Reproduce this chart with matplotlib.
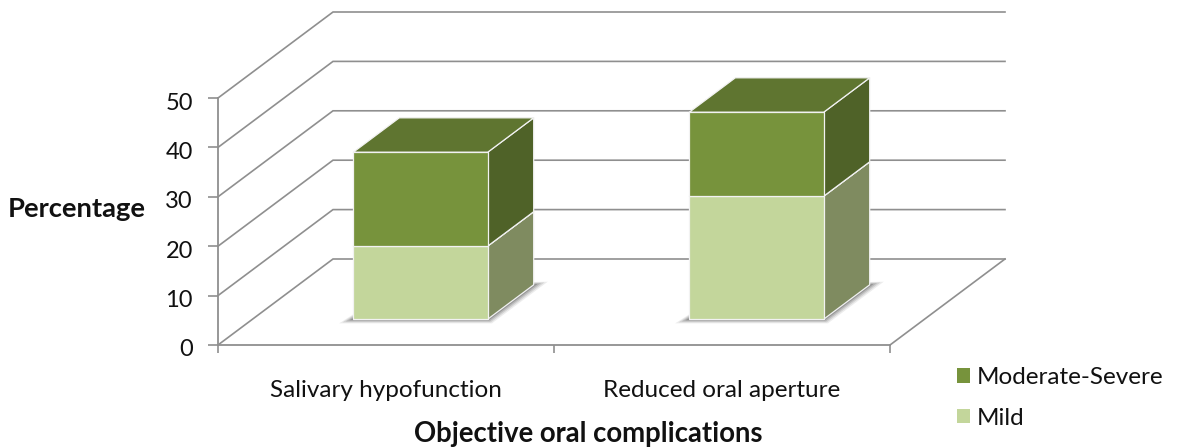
import matplotlib
matplotlib.use('Agg')
import matplotlib.pyplot as plt
from matplotlib.patches import Polygon, Patch
from matplotlib.transforms import ScaledTranslation

plt.rcParams['font.family'] = ['Lato', 'DejaVu Sans']

W, H = 1181, 447

categories = ['Salivary hypofunction', 'Reduced oral aperture']
mild = [14.8, 24.9]
moderate_severe = [19.0, 17.0]
y_ticks = [0, 10, 20, 30, 40, 50]

# depth offset of the back wall, in axis units
DX = 115 / 336
DY = 86 / 4.94
BAR_W = 0.4
D0, D1 = 0.3, 0.7  # bar position inside the floor depth

GRID = '#8F8F8F'
DARK = ('#77933C', '#4F6228', '#5F7530')  # front, side, top
LIGHT = ('#C3D69B', '#7F8B60', '#92A570')


def pr(x, y, d):
    return (x + DX * d, y + DY * d)


fig = plt.figure(figsize=(W / 100, H / 100), dpi=100)
ax = fig.add_axes([218 / W, 1 - 345 / H, 672 / W, 247 / H])
ax.set_xlim(0, 2)
ax.set_ylim(0, 50)
ax.patch.set_alpha(0)

# walls
for v in y_ticks:
    xs = [0, DX, 2 + DX]
    ys = [v, v + DY, v + DY]
    ax.plot(xs, ys, color=GRID, lw=1.2, clip_on=False, zorder=1, solid_joinstyle='miter')
ax.plot([2, 2 + DX], [0, DY], color=GRID, lw=1.2, clip_on=False, zorder=1)


def box(x0, x1, y0, y1, cols, z):
    edge = dict(edgecolor='#F2F2F2', linewidth=0.9, clip_on=False, zorder=z, joinstyle='round')
    front = [pr(x0, y0, D0), pr(x1, y0, D0), pr(x1, y1, D0), pr(x0, y1, D0)]
    side = [pr(x1, y0, D0), pr(x1, y0, D1), pr(x1, y1, D1), pr(x1, y1, D0)]
    top = [pr(x0, y1, D0), pr(x1, y1, D0), pr(x1, y1, D1), pr(x0, y1, D1)]
    ax.add_patch(Polygon(side, facecolor=cols[1], **edge))
    ax.add_patch(Polygon(top, facecolor=cols[2], **edge))
    ax.add_patch(Polygon(front, facecolor=cols[0], **edge))


for i, cat in enumerate(categories):
    x0 = i + 0.5 - BAR_W / 2
    x1 = x0 + BAR_W
    # soft floor shadow
    for k, a in ((0.042, 0.10), (0.032, 0.15), (0.022, 0.2), (0.012, 0.3), (0.004, 0.35)):
        low = -k * 20
        sh = [pr(x0 - k, low, D0), pr(x1 + k * 0.3, low, D0),
              pr(x1 + k, k * 15, D1), pr(x0, 0, D1)]
        ax.add_patch(Polygon(sh, facecolor='#4A4A4A', edgecolor='none', alpha=a,
                             clip_on=False, zorder=2))
    box(x0, x1, 0, mild[i], LIGHT, 3)
    box(x0, x1, mild[i], mild[i] + moderate_severe[i], DARK, 4)

# axes
for s in ('top', 'right'):
    ax.spines[s].set_visible(False)
for s in ('left', 'bottom'):
    ax.spines[s].set_color(GRID)
    ax.spines[s].set_linewidth(1.3)
ax.set_yticks(y_ticks)
ax.tick_params(axis='y', length=7, width=1.2, color=GRID, labelsize=17, pad=11, labelcolor='#111111')
for lab in ax.get_yticklabels():
    lab.set_transform(lab.get_transform() + ScaledTranslation(0, -3 / 100, fig.dpi_scale_trans))
ax.set_xticks([0, 1, 2])
ax.set_xticklabels([])
ax.tick_params(axis='x', which='major', length=6, width=1.2, color=GRID)
ax.set_xticks([0.5, 1.5], labels=categories, minor=True)
ax.tick_params(axis='x', which='minor', length=0, labelsize=17.5, pad=25, labelcolor='#111111')

fig.text(77 / W, 1 - 209 / H, 'Percentage', ha='center', va='center',
         fontsize=19.7, fontweight='bold', color='#111111')
fig.text(588 / W, 1 - 434 / H, 'Objective oral complications', ha='center', va='center',
         fontsize=19.8, fontweight='bold', color='#111111')

handles = [Patch(facecolor=DARK[0], label='Moderate-Severe'),
           Patch(facecolor=LIGHT[0], label='Mild')]
fig.legend(handles=handles, loc='upper left', bbox_to_anchor=(957 / W, 1 - 367 / H),
           frameon=False, fontsize=17.5, handlelength=0.53, handleheight=0.53,
           handletextpad=0.29, labelspacing=0.81, borderpad=0, borderaxespad=0,
           labelcolor='#111111')

fig.savefig('out.png', dpi=100)
